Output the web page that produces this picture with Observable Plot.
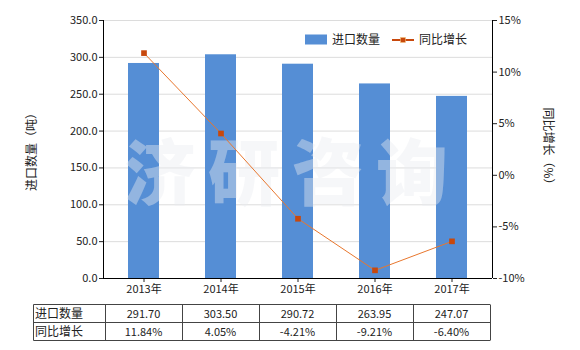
<!DOCTYPE html>
<html><head><meta charset="utf-8">
<script src="https://cdn.jsdelivr.net/npm/d3@7"></script>
<script src="https://cdn.jsdelivr.net/npm/@observablehq/plot@0.6"></script>
<style>
body{margin:0;background:#fff;}
#c{position:relative;width:580px;height:350px;}
</style>
</head><body><div id="c"></div>
<script>
const years = ["2013","2014","2015","2016","2017"];
const qty = [291.70, 303.50, 290.72, 263.95, 247.07];
const growth = [11.84, 4.05, -4.21, -9.21, -6.40];
const qtyLabels = ["291.70","303.50","290.72","263.95","247.07"];
const growthLabels = ["11.84%","4.05%","-4.21%","-9.21%","-6.40%"];
const leftTicks = [0,50,100,150,200,250,300,350];
const rightTicks = [-10,-5,0,5,10,15];
const seriesNames = ["进口数量","同比增长"];
const leftTitle = "进口数量（吨）";
const rightTitle = "同比增长（%）";
const watermark = "济研咨询";

const FONT = "'Noto Sans CJK SC', 'Noto Sans', sans-serif";
const BLUE = "#558ed5", ORANGE = "#e8772e", MARK = "#c8480c";
const data = years.map((y,i)=>({year:y, qty:qty[i], growth:growth[i]}));
const g2y = d3.scaleLinear([-10,15],[0,350]);

const chart = Plot.plot({
  width: 580, height: 350,
  marginLeft: 103, marginRight: 88, marginTop: 20, marginBottom: 72,
  style: {fontFamily: FONT, fontSize: "11px", color: "#222", background: "#fff"},
  x: {type: "band", domain: years, paddingInner: 0.6, paddingOuter: 0.3, label: null},
  y: {domain: [0,350], label: null},
  marks: [
    Plot.gridY(leftTicks, {stroke: "#dcdcdc", strokeOpacity: 1}),
    Plot.barY(data, {x: "year", y: "qty", fill: BLUE}),
    Plot.text([watermark], {frameAnchor: "middle", text: d=>d, dx: -6, dy: 26, fontSize: 72, fontWeight: 900, fill: "#e9ecf1", fillOpacity: 0.42, fontFamily: FONT}),
    Plot.lineY(data, {x: "year", y: d=>g2y(d.growth), stroke: ORANGE, strokeWidth: 1}),
    Plot.dot(data, {x: "year", y: d=>g2y(d.growth), symbol: "square", r: 3.2, fill: MARK, stroke: null}),
    Plot.axisY({anchor: "left", ticks: leftTicks, tickFormat: d3.format(".1f"), tickSize: 4, tickPadding: 2, label: null, fontSize: 11}),
    Plot.axisY({anchor: "right", ticks: rightTicks.map(g2y), tickFormat: v => Math.round(g2y.invert(v)) + "%", tickSize: 4, tickPadding: 2, label: null, fontSize: 11}),
    Plot.axisX({tickSize: 4, tickPadding: 3, tickFormat: d => d + "年", label: null, fontSize: 11}),
    Plot.ruleY([0], {stroke: "#000"})
  ]
});
document.getElementById("c").appendChild(chart);

const svg = d3.select(chart);
svg.selectAll("text").filter(function(){return this.textContent===watermark;}).style("letter-spacing","12px");
const xs = chart.scale("x");
const x0 = 103, x1 = 580-88, yTop = 20, yBot = 278;
// axis lines
svg.append("line").attr("x1",x0+0.5).attr("x2",x0+0.5).attr("y1",yTop).attr("y2",yBot).attr("stroke","#000");
svg.append("line").attr("x1",x1+0.5).attr("x2",x1+0.5).attr("y1",yTop).attr("y2",yBot).attr("stroke","#000");
// axis titles
svg.append("text").attr("transform",`translate(36,${(yTop+yBot)/2}) rotate(-90)`).attr("text-anchor","middle")
  .attr("font-family",FONT).attr("font-size",12).attr("fill","#222").text(leftTitle);
svg.append("text").attr("transform",`translate(544,${(yTop+yBot)/2}) rotate(90)`).attr("text-anchor","middle")
  .attr("font-family",FONT).attr("font-size",12).attr("fill","#222").text(rightTitle);
// legend
const lg = svg.append("g").attr("font-family",FONT).attr("font-size",12).attr("fill","#222").attr("text-anchor","start");
lg.append("rect").attr("x",305).attr("y",34.5).attr("width",22).attr("height",10).attr("fill",BLUE);
lg.append("text").attr("x",332).attr("y",44).text(seriesNames[0]);
lg.append("line").attr("x1",392).attr("x2",414).attr("y1",40).attr("y2",40).attr("stroke",MARK).attr("stroke-width",2);
lg.append("rect").attr("x",400.5).attr("y",37.5).attr("width",5).attr("height",5).attr("fill",MARK).attr("stroke","#f3c27a").attr("stroke-width",0.6);
lg.append("text").attr("x",419).attr("y",44).text(seriesNames[1]);
// table
const step = xs.step, bw = xs.bandwidth;
const centers = years.map(y => xs.apply(y) + bw/2);
const tL = 33.5, tR = centers[4] + step/2, r0 = 304.5, r1 = 322.5, r2 = 340.5;
const tg = svg.append("g").attr("font-family",FONT).attr("font-size",11).attr("fill","#222");
[r0,r1,r2].forEach(yy => tg.append("line").attr("x1",tL).attr("x2",tR).attr("y1",yy).attr("y2",yy).attr("stroke","#444"));
const edges = [tL, ...centers.map(c => Math.round(c - step/2)+0.5), Math.round(tR)+0.5];
edges.forEach(xx => tg.append("line").attr("x1",xx).attr("x2",xx).attr("y1",r0).attr("y2",r2).attr("stroke","#444"));
tg.append("text").attr("x",35).attr("y",317.5).attr("text-anchor","start").attr("font-size",12).text(seriesNames[0]);
tg.append("text").attr("x",35).attr("y",335.5).attr("text-anchor","start").attr("font-size",12).text(seriesNames[1]);
centers.forEach((c,i) => {
  tg.append("text").attr("x",c).attr("y",317.5).attr("text-anchor","middle").text(qtyLabels[i]);
  tg.append("text").attr("x",c).attr("y",335.5).attr("text-anchor","middle").text(growthLabels[i]);
});
</script></body></html>
